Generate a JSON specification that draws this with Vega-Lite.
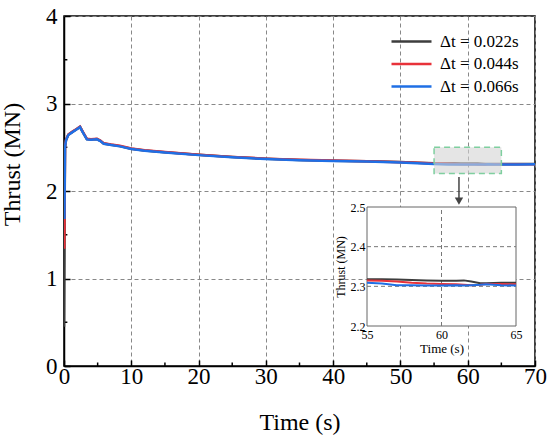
{
  "$schema": "https://vega.github.io/schema/vega-lite/v6.json",
  "width": 471,
  "height": 350,
  "autosize": {"type": "none"},
  "padding": {"left": 64, "top": 16, "right": 15, "bottom": 76},
  "config": {
    "font": "Liberation Serif",
    "view": {"stroke": "black", "strokeWidth": 1.5},
    "axis": {"labelFont": "Liberation Serif", "titleFont": "Liberation Serif", "titleFontWeight": "normal", "labelColor": "black", "titleColor": "black"}
  },
  "datasets": {
    "thrust": [
      {"s": "0.022", "t": 0, "v": 0.45}, {"s": "0.022", "t": 0.15, "v": 2.503}, {"s": "0.022", "t": 0.3, "v": 2.583}, {"s": "0.022", "t": 0.64, "v": 2.643},
      {"s": "0.022", "t": 1.2, "v": 2.673}, {"s": "0.022", "t": 1.8, "v": 2.703}, {"s": "0.022", "t": 2.38, "v": 2.733}, {"s": "0.022", "t": 2.8, "v": 2.673},
      {"s": "0.022", "t": 3.4, "v": 2.593}, {"s": "0.022", "t": 4, "v": 2.588}, {"s": "0.022", "t": 4.9, "v": 2.593}, {"s": "0.022", "t": 5.4, "v": 2.573},
      {"s": "0.022", "t": 5.9, "v": 2.543}, {"s": "0.022", "t": 7, "v": 2.528}, {"s": "0.022", "t": 8.3, "v": 2.513}, {"s": "0.022", "t": 10, "v": 2.483},
      {"s": "0.022", "t": 12, "v": 2.463}, {"s": "0.022", "t": 15, "v": 2.443}, {"s": "0.022", "t": 20, "v": 2.413}, {"s": "0.022", "t": 25, "v": 2.388},
      {"s": "0.022", "t": 30, "v": 2.368}, {"s": "0.022", "t": 35, "v": 2.355}, {"s": "0.022", "t": 40, "v": 2.346}, {"s": "0.022", "t": 45, "v": 2.339},
      {"s": "0.022", "t": 50, "v": 2.331}, {"s": "0.022", "t": 52.5, "v": 2.324}, {"s": "0.022", "t": 55, "v": 2.318}, {"s": "0.022", "t": 56, "v": 2.318},
      {"s": "0.022", "t": 57, "v": 2.317}, {"s": "0.022", "t": 58, "v": 2.316}, {"s": "0.022", "t": 59, "v": 2.315}, {"s": "0.022", "t": 60, "v": 2.314},
      {"s": "0.022", "t": 61, "v": 2.314}, {"s": "0.022", "t": 61.5, "v": 2.315}, {"s": "0.022", "t": 62, "v": 2.312}, {"s": "0.022", "t": 62.6, "v": 2.308},
      {"s": "0.022", "t": 63, "v": 2.308}, {"s": "0.022", "t": 64, "v": 2.309}, {"s": "0.022", "t": 65, "v": 2.309}, {"s": "0.022", "t": 67.5, "v": 2.309},
      {"s": "0.022", "t": 70, "v": 2.309},
      {"s": "0.044", "t": 0.044, "v": 1.34}, {"s": "0.044", "t": 0.15, "v": 2.506}, {"s": "0.044", "t": 0.3, "v": 2.586}, {"s": "0.044", "t": 0.64, "v": 2.646},
      {"s": "0.044", "t": 1.2, "v": 2.676}, {"s": "0.044", "t": 1.8, "v": 2.706}, {"s": "0.044", "t": 2.38, "v": 2.736}, {"s": "0.044", "t": 2.8, "v": 2.676},
      {"s": "0.044", "t": 3.4, "v": 2.596}, {"s": "0.044", "t": 4, "v": 2.591}, {"s": "0.044", "t": 4.9, "v": 2.596}, {"s": "0.044", "t": 5.4, "v": 2.576},
      {"s": "0.044", "t": 5.9, "v": 2.546}, {"s": "0.044", "t": 7, "v": 2.531}, {"s": "0.044", "t": 8.3, "v": 2.516}, {"s": "0.044", "t": 10, "v": 2.486},
      {"s": "0.044", "t": 12, "v": 2.465}, {"s": "0.044", "t": 15, "v": 2.445}, {"s": "0.044", "t": 20, "v": 2.415}, {"s": "0.044", "t": 25, "v": 2.39},
      {"s": "0.044", "t": 30, "v": 2.37}, {"s": "0.044", "t": 35, "v": 2.357}, {"s": "0.044", "t": 40, "v": 2.348}, {"s": "0.044", "t": 45, "v": 2.34},
      {"s": "0.044", "t": 50, "v": 2.329}, {"s": "0.044", "t": 52.5, "v": 2.322}, {"s": "0.044", "t": 55, "v": 2.315}, {"s": "0.044", "t": 56, "v": 2.314},
      {"s": "0.044", "t": 57, "v": 2.312}, {"s": "0.044", "t": 58, "v": 2.309}, {"s": "0.044", "t": 59, "v": 2.307}, {"s": "0.044", "t": 60, "v": 2.306},
      {"s": "0.044", "t": 61, "v": 2.305}, {"s": "0.044", "t": 61.5, "v": 2.304}, {"s": "0.044", "t": 62, "v": 2.303}, {"s": "0.044", "t": 62.6, "v": 2.304},
      {"s": "0.044", "t": 63, "v": 2.306}, {"s": "0.044", "t": 64, "v": 2.306}, {"s": "0.044", "t": 65, "v": 2.305}, {"s": "0.044", "t": 67.5, "v": 2.306},
      {"s": "0.044", "t": 70, "v": 2.307},
      {"s": "0.066", "t": 0.066, "v": 1.68}, {"s": "0.066", "t": 0.15, "v": 2.5}, {"s": "0.066", "t": 0.3, "v": 2.58}, {"s": "0.066", "t": 0.64, "v": 2.64},
      {"s": "0.066", "t": 1.2, "v": 2.67}, {"s": "0.066", "t": 1.8, "v": 2.7}, {"s": "0.066", "t": 2.38, "v": 2.73}, {"s": "0.066", "t": 2.8, "v": 2.67},
      {"s": "0.066", "t": 3.4, "v": 2.59}, {"s": "0.066", "t": 4, "v": 2.585}, {"s": "0.066", "t": 4.9, "v": 2.59}, {"s": "0.066", "t": 5.4, "v": 2.57},
      {"s": "0.066", "t": 5.9, "v": 2.54}, {"s": "0.066", "t": 7, "v": 2.525}, {"s": "0.066", "t": 8.3, "v": 2.51}, {"s": "0.066", "t": 10, "v": 2.48},
      {"s": "0.066", "t": 12, "v": 2.46}, {"s": "0.066", "t": 15, "v": 2.44}, {"s": "0.066", "t": 20, "v": 2.41}, {"s": "0.066", "t": 25, "v": 2.385},
      {"s": "0.066", "t": 30, "v": 2.365}, {"s": "0.066", "t": 35, "v": 2.352}, {"s": "0.066", "t": 40, "v": 2.343}, {"s": "0.066", "t": 45, "v": 2.336},
      {"s": "0.066", "t": 50, "v": 2.326}, {"s": "0.066", "t": 52.5, "v": 2.317}, {"s": "0.066", "t": 55, "v": 2.309}, {"s": "0.066", "t": 56, "v": 2.307},
      {"s": "0.066", "t": 57, "v": 2.303}, {"s": "0.066", "t": 58, "v": 2.303}, {"s": "0.066", "t": 59, "v": 2.302}, {"s": "0.066", "t": 60, "v": 2.302},
      {"s": "0.066", "t": 61, "v": 2.303}, {"s": "0.066", "t": 61.5, "v": 2.302}, {"s": "0.066", "t": 62, "v": 2.303}, {"s": "0.066", "t": 62.6, "v": 2.304},
      {"s": "0.066", "t": 63, "v": 2.305}, {"s": "0.066", "t": 64, "v": 2.303}, {"s": "0.066", "t": 65, "v": 2.302}, {"s": "0.066", "t": 67.5, "v": 2.303},
      {"s": "0.066", "t": 70, "v": 2.305}
    ]
  },
  "layer": [
    {
      "layer": [
        {
          "data": {"values": [
            {"x0": 5, "x1": 5, "y0": 0, "y1": 0.04}, {"x0": 15, "x1": 15, "y0": 0, "y1": 0.04}, {"x0": 25, "x1": 25, "y0": 0, "y1": 0.04},
            {"x0": 35, "x1": 35, "y0": 0, "y1": 0.04}, {"x0": 45, "x1": 45, "y0": 0, "y1": 0.04}, {"x0": 55, "x1": 55, "y0": 0, "y1": 0.04},
            {"x0": 65, "x1": 65, "y0": 0, "y1": 0.04},
            {"x0": 0, "x1": 0.5, "y0": 0.5, "y1": 0.5}, {"x0": 0, "x1": 0.5, "y0": 1.5, "y1": 1.5},
            {"x0": 0, "x1": 0.5, "y0": 2.5, "y1": 2.5}, {"x0": 0, "x1": 0.5, "y0": 3.5, "y1": 3.5}
          ]},
          "mark": {"type": "rule", "stroke": "black", "strokeWidth": 1.5},
          "encoding": {
            "x": {"field": "x0", "type": "quantitative"},
            "x2": {"field": "x1"},
            "y": {"field": "y0", "type": "quantitative"},
            "y2": {"field": "y1"}
          }
        },
        {
          "data": {"name": "thrust"},
          "mark": {"type": "line", "strokeWidth": 2.5, "clip": true},
          "encoding": {
            "x": {
              "field": "t", "type": "quantitative",
              "scale": {"domain": [0, 70], "nice": false, "zero": false},
              "axis": {
                "title": "Time (s)", "values": [0, 10, 20, 30, 40, 50, 60, 70], "format": "d", "labelFlush": false,
                "grid": true, "gridDash": [4, 3], "gridColor": "#888", "gridWidth": 1,
                "domainColor": "black", "domainWidth": 1.5, "tickColor": "black", "tickWidth": 1.5, "tickSize": -6,
                "labelFontSize": 23, "labelPadding": 5, "titleFontSize": 24, "titlePadding": 22
              }
            },
            "y": {
              "field": "v", "type": "quantitative",
              "scale": {"domain": [0, 4], "nice": false, "zero": false},
              "axis": {
                "title": "Thrust (MN)", "values": [0, 1, 2, 3, 4], "format": "d",
                "grid": true, "gridDash": [4, 3], "gridColor": "#888", "gridWidth": 1,
                "domainColor": "black", "domainWidth": 1.5, "tickColor": "black", "tickWidth": 1.5, "tickSize": -6,
                "labelFontSize": 23, "labelPadding": 13, "titleFontSize": 24, "titleX": -40, "titleY": 148
              }
            },
            "color": {
              "field": "s", "type": "nominal",
              "scale": {"domain": ["0.022", "0.044", "0.066"], "range": ["#3d3d3d", "#e8323a", "#1f6fe5"]},
              "legend": {
                "title": null, "orient": "none", "legendX": 336, "legendY": 14,
                "symbolType": "M-2,0H2", "symbolStrokeWidth": 2.5, "symbolSize": 400,
                "labelFont": "Liberation Serif", "labelFontSize": 17, "labelColor": "black",
                "labelExpr": "'Δt = ' + datum.label + 's'", "labelOffset": 17, "rowPadding": 2.5
              }
            }
          }
        },
        {
          "data": {"values": [{"x0": 55, "x1": 65, "y0": 2.2, "y1": 2.5}]},
          "mark": {"type": "rect", "fill": "#d4d4d4", "fillOpacity": 0.6, "stroke": "#7fcf9f", "strokeWidth": 1.5, "strokeDash": [6, 4]},
          "encoding": {
            "x": {"field": "x0", "type": "quantitative"},
            "x2": {"field": "x1"},
            "y": {"field": "y0", "type": "quantitative"},
            "y2": {"field": "y1"}
          }
        },
        {
          "data": {"values": [{"x0": 58.7, "y0": 2.16, "y1": 1.92}]},
          "mark": {"type": "rule", "stroke": "#444", "strokeWidth": 1.5},
          "encoding": {
            "x": {"field": "x0", "type": "quantitative"},
            "y": {"field": "y0", "type": "quantitative"},
            "y2": {"field": "y1"}
          }
        },
        {
          "data": {"values": [{"x0": 58.7, "y0": 1.885}]},
          "mark": {"type": "point", "shape": "triangle-down", "filled": true, "size": 70, "color": "#444", "opacity": 1},
          "encoding": {
            "x": {"field": "x0", "type": "quantitative"},
            "y": {"field": "y0", "type": "quantitative"}
          }
        }
      ]
    },
    {
      "layer": [
        {
          "data": {"values": [{"x0": 55, "x1": 65, "y0": 2.2, "y1": 2.5}]},
          "mark": {"type": "rect", "fill": "white", "stroke": "#666", "strokeWidth": 1},
          "encoding": {
            "x": {
              "field": "x0", "type": "quantitative",
              "scale": {"domain": [55, 65], "range": [303, 452], "nice": false, "zero": false},
              "axis": {
                "title": "Time (s)", "values": [55, 60, 65], "orient": "bottom", "offset": -40, "labelFlush": false,
                "grid": false, "domain": false, "ticks": false, "zindex": 1,
                "labelFontSize": 12, "labelPadding": 3, "titleFontSize": 13, "titlePadding": 2
              }
            },
            "x2": {"field": "x1"},
            "y": {
              "field": "y0", "type": "quantitative",
              "scale": {"domain": [2.2, 2.5], "range": [310, 191], "nice": false, "zero": false},
              "axis": {
                "title": "Thrust (MN)", "values": [2.2, 2.3, 2.4, 2.5], "format": ".1f", "orient": "left", "offset": -303,
                "grid": false, "domain": false, "ticks": false, "zindex": 1,
                "labelFontSize": 12, "labelPadding": 2, "titleFontSize": 12, "titlePadding": 3
              }
            },
            "y2": {"field": "y1"}
          }
        },
        {
          "data": {"values": [
            {"x0": 60, "x1": 60, "y0": 2.2, "y1": 2.5},
            {"x0": 55, "x1": 65, "y0": 2.3, "y1": 2.3},
            {"x0": 55, "x1": 65, "y0": 2.4, "y1": 2.4}
          ]},
          "mark": {"type": "rule", "stroke": "#777", "strokeWidth": 1, "strokeDash": [4, 3]},
          "encoding": {
            "x": {"field": "x0", "type": "quantitative"},
            "x2": {"field": "x1"},
            "y": {"field": "y0", "type": "quantitative"},
            "y2": {"field": "y1"}
          }
        },
        {
          "data": {"name": "thrust"},
          "transform": [{"filter": "datum.t >= 55 && datum.t <= 65"}],
          "mark": {"type": "line", "strokeWidth": 2},
          "encoding": {
            "x": {"field": "t", "type": "quantitative"},
            "y": {"field": "v", "type": "quantitative"},
            "color": {"field": "s", "type": "nominal"}
          }
        }
      ]
    }
  ],
  "resolve": {
    "scale": {"x": "independent", "y": "independent"},
    "axis": {"x": "independent", "y": "independent"}
  }
}
